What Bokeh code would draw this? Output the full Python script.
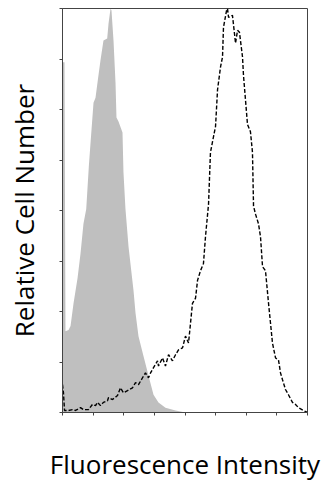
from bokeh.plotting import figure
from bokeh.models import FixedTicker, Range1d
from bokeh.embed import file_html
from bokeh.resources import INLINE

# Channel (0-256) and relative count (% of max)
control_x = [0, 2.1, 3.1, 6.3, 8.4, 11.5, 15.7, 18.8, 21.9, 24.8, 27.5, 29.3, 32.4, 34.5,
             37.3, 39.7, 42.8, 46.7, 48.1, 50.2, 51.2, 53.3, 55.4, 56.4, 58.5, 62.7, 63.7,
             65.8, 69.0, 74.2, 76.3, 79.4, 84.6, 89.9, 95.1, 100.3, 107.6, 118.1, 128.5]
control_y = [86.7, 86.7, 20.1, 20.4, 21.4, 27.0, 33.2, 39.3, 46.7, 50.4, 60.9, 66.8, 76.7,
             77.9, 83.0, 87.2, 92.1, 92.6, 96.3, 100.0, 99.5, 92.1, 81.6, 73.0, 72.0, 69.3,
             59.5, 50.4, 41.0, 30.2, 24.6, 18.9, 14.0, 9.1, 4.4, 2.5, 1.2, 0.5, 0.0]

stained_x = [0, 1.0, 2.1, 6.3, 10.4, 13.6, 18.8, 21.9, 27.2, 31.3, 34.5, 36.6, 39.7, 42.8,
             47.0, 48.1, 52.2, 57.5, 60.6, 63.7, 67.9, 73.1, 76.3, 79.4, 83.6, 86.7, 89.9,
             92.0, 95.1, 99.3, 100.3, 104.5, 107.6, 110.8, 114.9, 118.1, 121.2, 125.4,
             128.5, 131.7, 135.8, 139.0, 141.1, 144.2, 147.3, 149.4, 152.6, 154.6, 157.8,
             159.9, 162.0, 165.1, 167.2, 168.2, 171.4, 172.4, 173.5, 177.6, 180.8, 182.9,
             184.9, 188.1, 189.1, 191.2, 193.3, 196.4, 198.5, 199.6, 201.7, 204.8, 206.9,
             209.0, 212.1, 215.3, 219.4, 222.6, 225.7, 227.8, 229.9, 233.0, 236.1, 240.3,
             243.5, 246.6, 251.8, 256.0]
stained_y = [6.9, 4.9, 0.5, 0.5, 0.7, 0.5, 1.2, 0.7, 0.7, 2.0, 1.7, 2.5, 1.7, 2.5,
             2.9, 3.7, 3.2, 4.2, 6.1, 4.9, 5.4, 6.1, 7.4, 6.9, 8.6, 9.8, 8.6,
             9.8, 11.1, 12.8, 11.5, 13.5, 11.5, 14.3, 12.8, 14.3, 15.5, 16.0,
             18.9, 17.2, 27.0, 28.3, 32.7, 35.1, 36.9, 43.5, 51.6, 64.4, 68.3,
             70.8, 79.9, 85.5, 88.0, 95.3, 99.5, 100.0, 97.8, 98.3, 91.4, 94.6,
             94.1, 88.0, 83.5, 77.4, 71.3, 69.5, 64.4, 51.1, 49.1, 46.7, 43.5,
             36.1, 35.1, 27.0, 17.2, 13.5, 13.0, 9.8, 8.1, 5.7, 4.4, 2.5,
             2.0, 1.2, 0.5, 0.0]

x_ticks = [0, 32, 64, 96, 128, 160, 192, 224, 256]
y_ticks = [0, 12.5, 25, 37.5, 50, 62.5, 75, 87.5, 100]
x_title = "Fluorescence Intensity"
y_title = "Relative Cell Number"

p = figure(width=321, height=484, output_backend="svg", toolbar_location=None,
           x_range=Range1d(0, 256), y_range=Range1d(0, 100),
           min_border_left=62, min_border_right=14, min_border_top=8, min_border_bottom=69)

p.varea(x=control_x, y1=[0] * len(control_x), y2=control_y, fill_color="#bfbfbf")
p.line(x=stained_x, y=stained_y, line_color="black", line_width=1.4, line_dash="4 2")

p.xgrid.visible = False
p.ygrid.visible = False
p.outline_line_color = "#444444"
p.outline_line_width = 1

for ax, ticks in ((p.xaxis[0], x_ticks), (p.yaxis[0], y_ticks)):
    ax.ticker = FixedTicker(ticks=ticks)
    ax.major_tick_out = 3
    ax.major_tick_in = 0
    ax.minor_tick_line_color = None
    ax.major_label_overrides = {t: "" for t in ticks}
    ax.major_label_standoff = 0
    ax.axis_line_color = "#444444"
    ax.major_tick_line_color = "#444444"
    ax.axis_label_text_font = "Open Sans"
    ax.axis_label_text_font_size = "26px"
    ax.axis_label_text_font_style = "normal"
    ax.axis_label_text_color = "black"

p.xaxis.axis_label = x_title
p.yaxis.axis_label = y_title
p.xaxis.axis_label_standoff = 30
p.yaxis.axis_label_standoff = 18

open("out.html", "w").write(file_html(p, INLINE))
